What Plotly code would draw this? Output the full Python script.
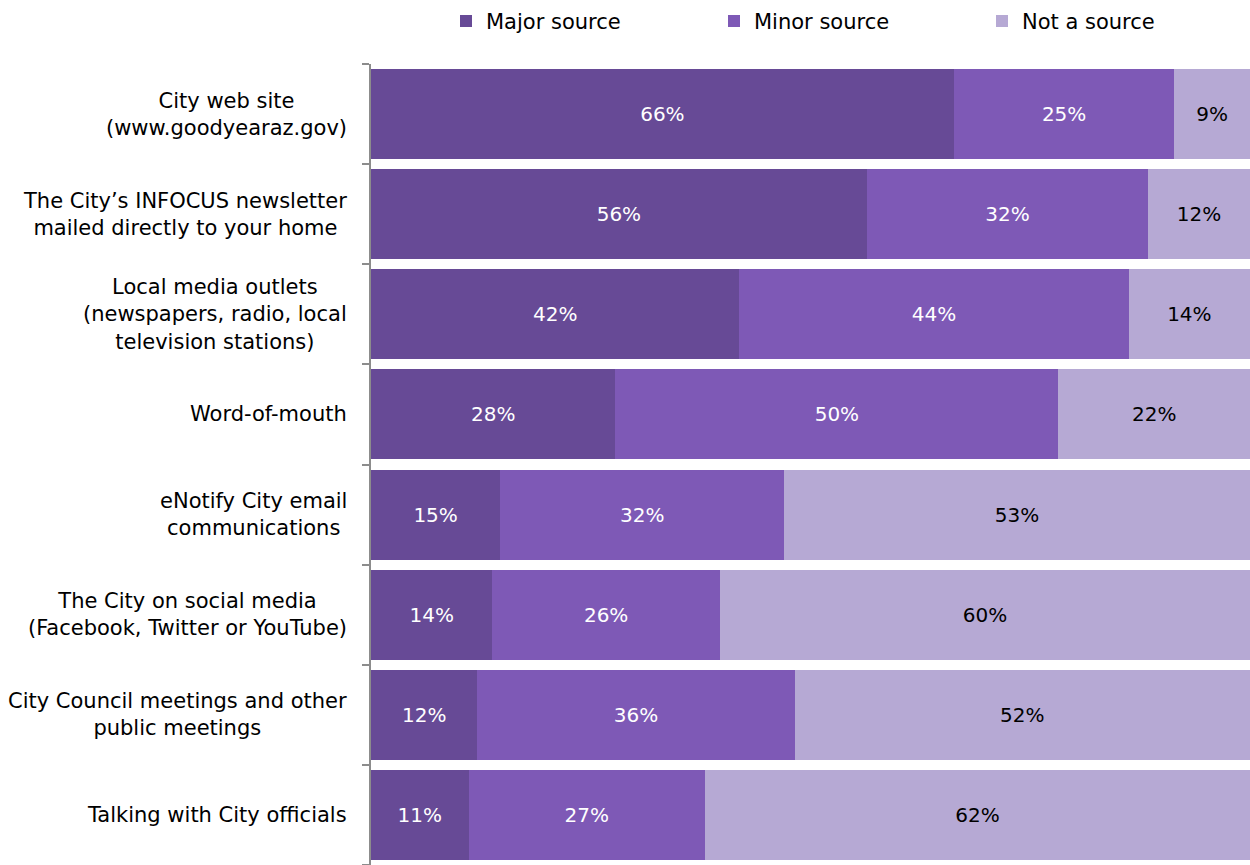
import plotly.graph_objects as go

categories = [
    "City web site<br>(www.goodyearaz.gov)",
    "The City’s INFOCUS newsletter<br>mailed directly to your home",
    "Local media outlets<br>(newspapers, radio, local<br>television stations)",
    "Word-of-mouth",
    "eNotify City email<br>communications",
    "The City on social media<br>(Facebook, Twitter or YouTube)",
    "City Council meetings and other<br>public meetings",
    "Talking with City officials",
]
major = [66.3, 56.4, 41.9, 27.8, 14.7, 13.8, 12.1, 11.1]
minor = [25.1, 32.0, 44.3, 50.4, 32.3, 25.9, 36.1, 26.9]
not_src = [8.6, 11.6, 13.8, 21.8, 53.0, 60.3, 51.8, 62.0]

series = [
    ("Major source", major, "#674a96", "white"),
    ("Minor source", minor, "#7e59b6", "white"),
    ("Not a source", not_src, "#b6a9d4", "black"),
]

FONT = "DejaVu Sans"
ids = list(range(len(categories)))

fig = go.Figure()
for name, vals, color, tcolor in series:
    fig.add_trace(go.Bar(
        name=name, y=ids, x=vals, orientation="h",
        marker=dict(color=color, line=dict(width=0)),
        texttemplate="%{x:.0f}%", textposition="inside", insidetextanchor="middle",
        textfont=dict(family=FONT, size=20, color=tcolor),
        hoverinfo="skip",
    ))

for i, c in enumerate(categories):
    fig.add_annotation(
        xref="paper", yref="y", x=0, y=i, xshift=-22, xanchor="right",
        text=c, align="center", showarrow=False,
        font=dict(family=FONT, size=21, color="black"),
    )

fig.update_layout(
    width=1250, height=865,
    margin=dict(l=371, r=0, t=64, b=0),
    barmode="stack", bargap=0.1,
    plot_bgcolor="white", paper_bgcolor="white",
    font=dict(family=FONT, size=20, color="black"),
    showlegend=True,
    legend=dict(orientation="h", x=0.372, xanchor="left", y=0.999, yanchor="top",
                yref="container", entrywidth=223, font=dict(size=21, family=FONT),
                traceorder="normal"),
    uniformtext=dict(mode=False),
)
fig.update_xaxes(range=[0, 100], showgrid=False, showticklabels=False, zeroline=False,
                 showline=False, fixedrange=True)
fig.update_yaxes(autorange="reversed", showgrid=False, showticklabels=False,
                 showline=True, linecolor="#8c8c8c", linewidth=2,
                 ticks="outside", ticklen=7, tickcolor="#8c8c8c", tickwidth=2,
                 tickmode="array", tickvals=[i - 0.5 for i in range(len(categories) + 1)],
                 range=[len(categories) - 0.5, -0.5], zeroline=False)

fig.write_html("out.html")
